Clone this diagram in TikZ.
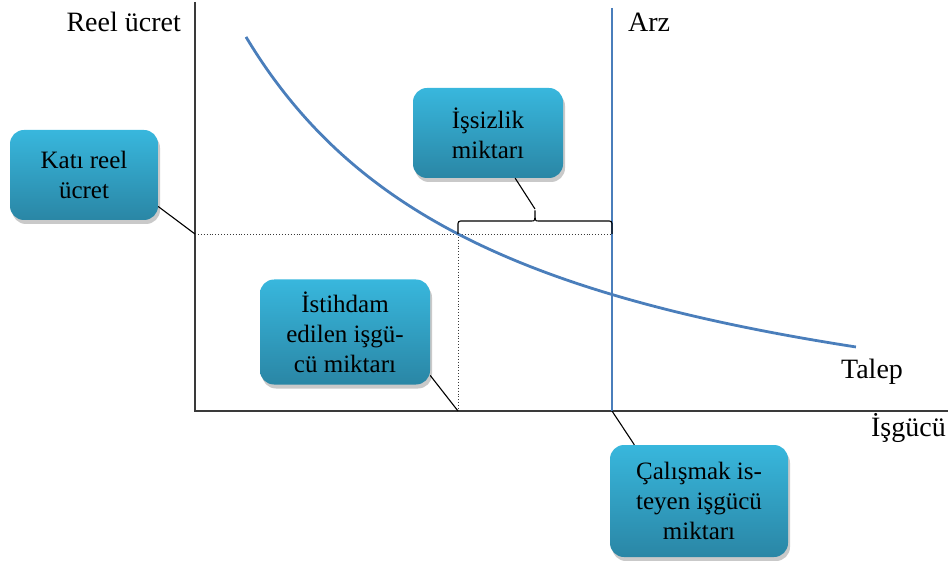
\documentclass[tikz,border=0pt]{standalone}
\usepackage{fontspec}
\setmainfont{Liberation Serif}
\usetikzlibrary{shadows}
\definecolor{boxtop}{HTML}{38B7DD}
\definecolor{boxbot}{HTML}{2A86A5}
\definecolor{curveblue}{HTML}{4A7EBB}
\definecolor{axisgray}{HTML}{3A3A3A}
\tikzset{
  infobox/.style={rounded corners=14pt, top color=boxtop, bottom color=boxbot,
    draw=none, align=center, inner sep=0pt,
    font=\rmfamily\fontsize{25}{30}\selectfont,
    drop shadow={shadow xshift=2pt, shadow yshift=-4pt, opacity=0.3, fill=black!70}},
  lbl/.style={font=\rmfamily\fontsize{28}{32}\selectfont, inner sep=0pt},
  axisline/.style={draw=axisgray, line width=1.3pt},
  guide/.style={draw=axisgray, dotted, line width=0.9pt},
  connector/.style={draw=black, line width=1.1pt},
  bluecurve/.style={draw=curveblue, line width=2.8pt}
}
\begin{document}
\begin{tikzpicture}[x=1pt,y=-1pt]
\useasboundingbox (0,0) rectangle (950,561);
% axes
\coordinate (ytop) at (195,2);
\coordinate (origin) at (195,411);
\coordinate (xend) at (948,411);
\draw[axisline] (ytop) -- (origin) -- (xend);
% guides
\coordinate (wage) at (195,234);
\coordinate (eq) at (458,234);
\coordinate (eqfoot) at (458,411);
\coordinate (arzwage) at (612,234);
\coordinate (arzfoot) at (612,411);
\coordinate (arztop) at (612,8);
\draw[guide] (wage) -- (arzwage);
\draw[guide] (eq) -- (eqfoot);
% demand curve
\draw[bluecurve] plot[domain=2.46:8.56, samples=120, smooth] ({100*\x},{483.4-1198.3/(\x+0.224)});
% supply line
\draw[bluecurve] (arztop) -- (arzfoot);
% bracket
\coordinate (bracetip) at (535,209);
\draw[line width=1.1pt, rounded corners=2.5pt] (458,234) -- (458,221) -- (529,221)
  .. controls (535,221) .. (bracetip) .. controls (535,221) .. (541,221) -- (612,221) -- (612,234);
% labels
\node[lbl, anchor=east] (ylabel) at (181,22) {Reel ücret};
\node[lbl, anchor=west] (arz) at (628,22) {Arz};
\node[lbl] (talep) at (872,372) {Talep};
\node[lbl, anchor=east] (isgucu) at (946,428) {İşgücü};
% boxes
\node[infobox, minimum width=148pt, minimum height=90pt] (kati) at (84,175) {Katı reel\\ücret};
\node[infobox, minimum width=150pt, minimum height=90pt] (issiz) at (488,133) {İşsizlik\\miktarı};
\node[infobox, minimum width=170pt, minimum height=105pt] (istih) at (345,332) {İstihdam\\edilen işgü-\\cü miktarı};
\node[infobox, minimum width=178pt, minimum height=112pt] (calis) at (699,501) {Çalışmak is-\\teyen işgücü\\miktarı};
% connectors
\draw[connector] (kati.-23) -- (wage);
\draw[connector] (issiz.-59) -- (bracetip);
\draw[connector] (istih.-27) -- (eqfoot);
\draw[connector] (calis.139) -- (arzfoot);
\end{tikzpicture}
\end{document}
